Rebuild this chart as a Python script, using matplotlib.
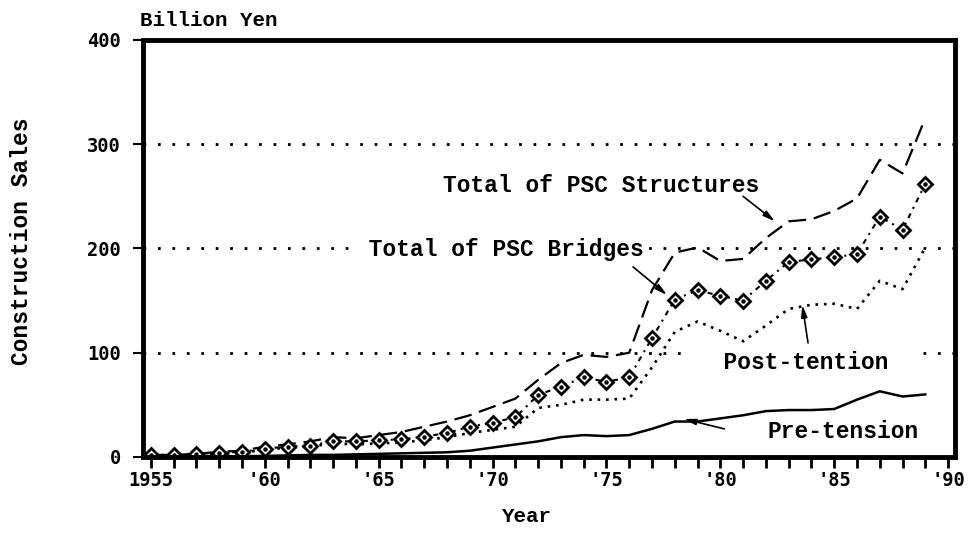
import matplotlib
matplotlib.use("Agg")
import matplotlib.pyplot as plt
import numpy as np

years = list(range(1955, 1990))

structures = [2, 2, 3, 5, 6, 10, 12, 15, 19, 18, 21, 24, 29, 34, 40, 48, 56,
              74, 90, 98, 96, 100, 160, 196, 201, 188, 190, 210, 226, 228,
              236, 248, 285, 272, 325]
bridges = [2, 2, 3, 4, 5, 8, 10, 11, 15, 15, 16, 17, 19.5, 23, 29, 33, 38,
           59.5, 67.5, 76.5, 72, 76.5, 114, 151, 160, 154.5, 150, 169, 187,
           189.6, 191.5, 194.7, 230.5, 218, 262]
post_tension = [1, 1, 2, 3, 4, 7, 9, 10, 13, 12, 13, 14, 16, 19, 23, 26, 29,
                47, 50, 55, 55, 56, 86, 120, 130, 121, 111, 126, 142, 146,
                147, 142, 169, 161, 201]
pre_tension = [0.5, 0.5, 0.5, 0.7, 0.8, 1, 1.5, 2, 2, 2.5, 3, 3.5, 4, 4.5,
               6, 9, 12, 15, 19, 21, 20, 21, 27, 34, 34, 37, 40, 44, 45, 45,
               46, 55, 63, 58, 60]

y_ticks = [0, 100, 200, 300, 400]
x_major = [1955, 1960, 1965, 1970, 1975, 1980, 1985, 1990]
x_labels = ["1955", "'60", "'65", "'70", "'75", "'80", "'85", "'90"]

FONT = "Liberation Mono"
TICKFONT = "DejaVu Sans Mono"

fig = plt.figure(figsize=(9.68, 5.38), dpi=100)
ax = fig.add_axes([0.1477, 0.1506, 0.8388, 0.7751])

# dotted reference lines
for v in y_ticks[1:-1]:
    ax.axhline(v, color="black", lw=2.0, ls=(0, (1, 4.2)), zorder=0.5)

ax.plot(years, pre_tension, color="black", lw=1.8, ls="-", zorder=3)
ax.plot(years, post_tension, color="black", lw=1.9, ls=(0, (1, 2.2)), zorder=3)
ax.plot(years, structures, color="black", lw=1.6, ls=(0, (8, 3.5)), zorder=3)
ax.plot(years, bridges, color="black", lw=1.5, ls=(0, (2.5, 2.5, 1, 2.5)),
        marker="D", markersize=7.5, markerfacecolor="white",
        markeredgecolor="black", markeredgewidth=2.0, zorder=4)
ax.plot(years, bridges, ls="none", marker="o", markersize=2.2,
        color="black", zorder=5)

ax.set_xlim(1954.65, 1990.3)
ax.set_ylim(0, 400)

ax.set_yticks(y_ticks)
ax.set_yticklabels([str(v) for v in y_ticks], fontfamily=TICKFONT,
                   fontweight="bold", fontsize=13.5)
ax.set_xticks(x_major)
ax.set_xticklabels(x_labels, fontfamily=TICKFONT, fontweight="bold",
                   fontsize=13.5)
ax.set_xticks(years + [1990], minor=True)
ax.tick_params(axis="x", which="both", direction="out", length=8, width=2,
               pad=2)
ax.tick_params(axis="y", direction="out", length=7, width=1.5, pad=9)

for s in ax.spines.values():
    s.set_linewidth(3.5)
    s.set_zorder(6)

txt_kw = dict(fontfamily=FONT, fontweight="bold", fontsize=16.5,
              color="black")
arrow_kw = dict(arrowstyle="-|>,head_length=0.7,head_width=0.18",
                color="black", lw=1.2, shrinkA=0, shrinkB=0)

ax.text(1974.76, 260, "Total of PSC Structures", ha="center", va="center",
        zorder=2, **txt_kw)
ax.annotate("", xy=(1982.4, 226), xytext=(1981.0, 250),
            arrowprops=arrow_kw, zorder=2)

ax.text(1970.3, 198.6, " Total of PSC Bridges", ha="center", va="center",
        zorder=1, bbox=dict(facecolor="white", edgecolor="none", pad=2),
        **txt_kw)
ax.annotate("", xy=(1977.66, 155.4), xytext=(1976.17, 182.3),
            arrowprops=arrow_kw, zorder=2)

ax.text(1983.77, 90.2, "  Post-tention  ", ha="center", va="center",
        zorder=1, bbox=dict(facecolor="white", edgecolor="none", pad=3),
        **txt_kw)
ax.annotate("", xy=(1983.6, 145.8), xytext=(1983.85, 109.4),
            arrowprops=arrow_kw, zorder=2)

ax.text(1985.4, 24, "Pre-tension", ha="center", va="center", zorder=2,
        **txt_kw)
ax.annotate("", xy=(1978.4, 36.5), xytext=(1980.18, 26.9),
            arrowprops=arrow_kw, zorder=2)

fig.text(140 / 968, 1 - 20 / 538, "Billion Yen", ha="left", va="center",
         fontfamily=FONT, fontweight="bold", fontsize=15)
fig.text(22 / 968, 1 - 241 / 538, "Construction Sales", ha="center",
         va="center", rotation=90, fontfamily=FONT, fontweight="bold",
         fontsize=16.5)
fig.text(527 / 968, 1 - 517 / 538, "Year", ha="center", va="center",
         fontfamily=FONT, fontweight="bold", fontsize=15)

fig.savefig("out.png", dpi=100, facecolor="white")
